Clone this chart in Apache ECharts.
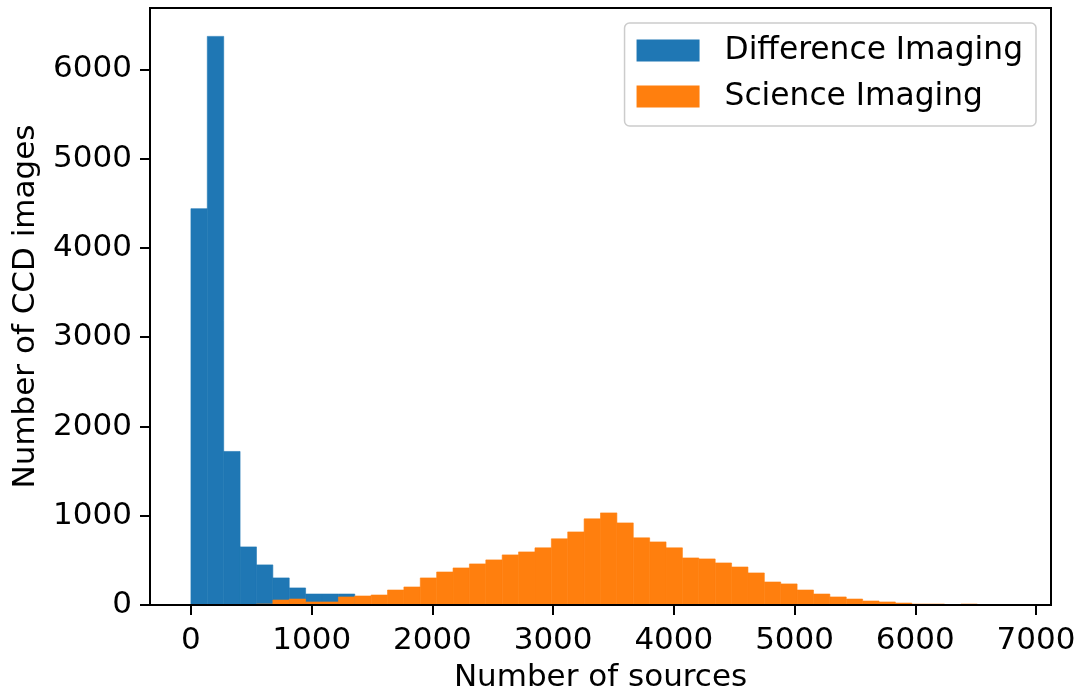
<!DOCTYPE html>
<html>
<head>
<meta charset="utf-8">
<script src="https://cdn.jsdelivr.net/npm/echarts@6/dist/echarts.min.js"></script>
<style>
html,body{margin:0;padding:0;background:#fff;}
#chart{width:1082px;height:695px;}
</style>
</head>
<body>
<div id="chart"></div>
<script>
// Histogram bins (shared edges), width in "number of sources"
var binStart = 0;
var binWidth = 135.7;

// Difference Imaging counts per bin (bins 0..9)
var diffCounts = [4440, 6370, 1720, 651, 449, 303, 191, 123, 123, 123];

// Science Imaging counts per bin (bins 0..49)
var sciCounts = [0, 0, 0, 0, 11, 56, 67, 34, 34, 90,
                 101, 112, 168, 202, 303, 370, 415, 460, 505, 561,
                 595, 640, 741, 819, 965, 1032, 920, 752, 707, 640,
                 527, 516, 471, 426, 359, 258, 236, 168, 123, 90,
                 67, 45, 34, 22, 11, 11, 0, 11, 0, 0];

var seriesNames = ['Difference Imaging', 'Science Imaging'];
var xTicks = [0, 1000, 2000, 3000, 4000, 5000, 6000, 7000];
var yTicks = [0, 1000, 2000, 3000, 4000, 5000, 6000];
var xLabel = 'Number of sources';
var yLabel = 'Number of CCD images';

function toBins(counts) {
  var out = [];
  for (var i = 0; i < counts.length; i++) {
    var s = binStart + i * binWidth;
    out.push([s, s + binWidth, counts[i]]);
  }
  return out;
}

function makeRender(color) {
  return function (params, api) {
    var p0 = api.coord([api.value(0), api.value(2)]);
    var p1 = api.coord([api.value(1), 0]);
    if (p1[1] - p0[1] <= 0) return null;
    return {
      type: 'rect',
      shape: { x: p0[0], y: p0[1], width: p1[0] - p0[0], height: p1[1] - p0[1] },
      style: { fill: color, stroke: color, lineWidth: 0.6 }
    };
  };
}

function plain(v) { return String(v); }

var FONT = 'DejaVu Sans';
var FS = 31;
var chart = echarts.init(document.getElementById('chart'), null, { renderer: 'canvas' });
var option = {
  animation: false,
  backgroundColor: '#ffffff',
  grid: {
    left: 150, right: 31, top: 8, bottom: 90,
    outerBoundsMode: 'none', containLabel: false,
    show: true, z: 10,
    backgroundColor: 'transparent',
    borderColor: '#000', borderWidth: 2
  },
  legend: {
    orient: 'vertical',
    right: 46, top: 23,
    itemWidth: 63, itemHeight: 22, itemGap: 15,
    icon: 'rect',
    padding: [12, 13, 14, 12],
    borderColor: '#cccccc', borderWidth: 1.5, borderRadius: 5,
    backgroundColor: 'rgba(255,255,255,0.8)',
    textStyle: { fontFamily: FONT, fontSize: 31.3, color: '#000', padding: [0, 0, 0, 20] },
    data: seriesNames
  },
  xAxis: {
    type: 'value',
    min: -339, max: 7124,
    name: xLabel, nameLocation: 'middle', nameGap: 57,
    nameTextStyle: { fontFamily: FONT, fontSize: FS, color: '#000' },
    splitLine: { show: false },
    axisLine: { show: false, onZero: false },
    axisTick: { show: true, customValues: xTicks, length: 10, lineStyle: { color: '#000', width: 2 } },
    axisLabel: { customValues: xTicks, formatter: plain, fontFamily: FONT, fontSize: FS, color: '#000', margin: 20 }
  },
  yAxis: {
    type: 'value',
    min: 0, max: 6688,
    name: yLabel, nameLocation: 'middle', nameGap: 109, nameRotate: 90,
    nameTextStyle: { fontFamily: FONT, fontSize: FS, color: '#000' },
    splitLine: { show: false },
    axisLine: { show: false, onZero: false },
    axisTick: { show: true, customValues: yTicks, length: 10, lineStyle: { color: '#000', width: 2 } },
    axisLabel: { customValues: yTicks, formatter: plain, fontFamily: FONT, fontSize: FS, color: '#000', margin: 18, verticalAlign: 'middle', padding: [6, 0, 0, 0] }
  },
  series: [
    {
      name: seriesNames[0], type: 'custom', renderItem: makeRender('#1f77b4'),
      itemStyle: { color: '#1f77b4' },
      encode: { x: [0, 1], y: 2 },
      data: toBins(diffCounts), z: 2
    },
    {
      name: seriesNames[1], type: 'custom', renderItem: makeRender('#ff7f0e'),
      itemStyle: { color: '#ff7f0e' },
      encode: { x: [0, 1], y: 2 },
      data: toBins(sciCounts), z: 3
    }
  ]
};
chart.setOption(option);
</script>
</body>
</html>
